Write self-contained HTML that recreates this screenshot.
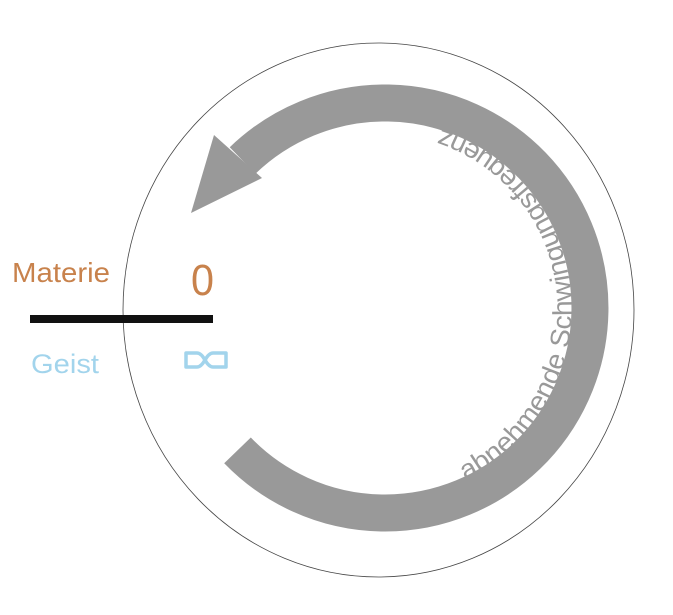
<!DOCTYPE html>
<html><head><meta charset="utf-8"><style>
html,body{margin:0;padding:0;background:#fff;}
svg{display:block}
</style></head><body>
<svg width="673" height="615" viewBox="0 0 673 615" xmlns="http://www.w3.org/2000/svg">
<defs>
<path id="tp" d="M 465.3 480.2 A 190 190 0 0 0 403.9 120.9"/>
</defs>
<ellipse cx="378.5" cy="310" rx="255.5" ry="267" fill="none" stroke="#444" stroke-width="0.8"/>
<path d="M 237.5 450.4 A 205 205 0 1 0 242.6 160.5" fill="none" stroke="#999" stroke-width="37"/>
<polygon points="214,135 262,178 191,213" fill="#999"/>
<text font-family="Liberation Sans, sans-serif" font-size="27" fill="#999"><textPath href="#tp" textLength="450" lengthAdjust="spacingAndGlyphs">abnehmende Schwingungsfrequenz</textPath></text>
<rect x="30" y="315" width="183" height="8" fill="#111"/>
<text x="12" y="282" font-family="Liberation Sans, sans-serif" font-size="28" fill="#c8824c" textLength="98" lengthAdjust="spacingAndGlyphs">Materie</text>
<text x="191" y="295" font-family="Liberation Sans, sans-serif" font-size="44" fill="#c8824c" textLength="23" lengthAdjust="spacingAndGlyphs">0</text>
<text x="31" y="373" font-family="Liberation Sans, sans-serif" font-size="27" fill="#a2d4ec" textLength="68" lengthAdjust="spacingAndGlyphs">Geist</text>
<path d="M 186 353 L 197 353 Q 201 353 205 360 Q 209 367 213 367 L 226 367 L 226 353 L 213 353 Q 209 353 205 360 Q 201 367 197 367 L 186 367 Z" fill="none" stroke="#a2d4ec" stroke-width="3.5" stroke-linejoin="round"/>
</svg>
</body></html>
